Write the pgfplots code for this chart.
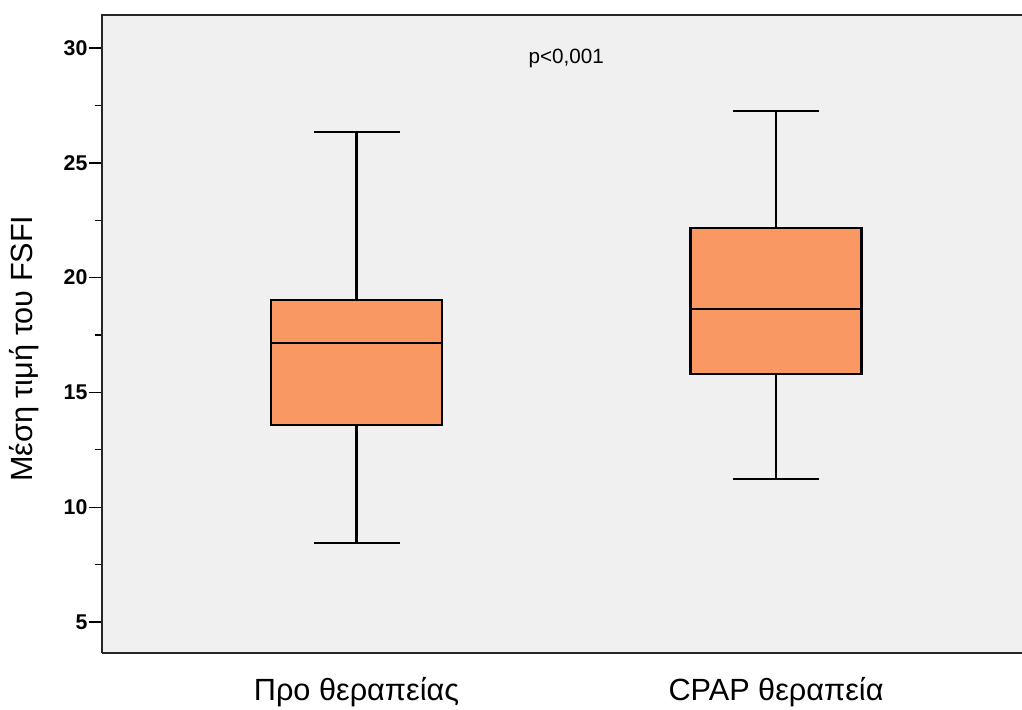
\documentclass[border=0pt]{standalone}
\usepackage{pgfplots}
\pgfplotsset{compat=1.18}
\usepgfplotslibrary{statistics}
\usepackage{fontspec}
\setmainfont{Liberation Sans}
\definecolor{boxfill}{RGB}{250,152,100}
\definecolor{bgfill}{RGB}{240,240,240}
\begin{document}
\begin{tikzpicture}
\path[use as bounding box] (0,0) rectangle (766.5pt,532.5pt);
\begin{axis}[
  at={(76.5pt,42.75pt)}, anchor=south west,
  scale only axis, width=697.5pt, height=478.5pt,
  xmin=0.3933, xmax=2.6102, ymin=3.65, ymax=31.44,
  axis background/.style={fill=bgfill},
  axis line style={draw=none},
  xtick={1,2}, xticklabels={Προ θεραπείας, CPAP θεραπεία},
  xtick style={draw=none},
  xticklabel style={font=\fontsize{23}{27}\selectfont, inner sep=0pt, yshift=-8pt},
  ytick={5,10,15,20,25,30}, minor ytick={7.5,12.5,17.5,22.5,27.5},
  ytick pos=left, tick align=outside,
  major tick length=9.75pt, minor tick length=5pt,
  ytick style={line width=1pt, black},
  yticklabel style={font=\fontsize{16}{18}\selectfont\bfseries, inner sep=0pt, xshift=-1pt},
  /pgf/number format/assume math mode=true,
  ylabel={Μέση τιμή του FSFI},
  every axis y label/.style={at={(axis description cs:-0.0839,0.477)}, rotate=90, anchor=center, font=\fontsize{23}{27}\selectfont},
  boxplot/draw direction=y,
  clip=false,
]
\addplot+[boxplot prepared={draw position=1, lower whisker=8.44, lower quartile=13.58, median=17.15, upper quartile=19.02, upper whisker=26.34, box extend=0.408, whisker extend=0.205},
  draw=black, fill=boxfill, line width=1.7pt, mark=none, solid] coordinates {};
\addplot+[boxplot prepared={draw position=2, lower whisker=11.23, lower quartile=15.80, median=18.63, upper quartile=22.16, upper whisker=27.26, box extend=0.408, whisker extend=0.205},
  draw=black, fill=boxfill, line width=1.7pt, mark=none, solid] coordinates {};
\draw[line width=1.3pt, black!85] (rel axis cs:0,0) -- (rel axis cs:0,1) -- (rel axis cs:1,1);
\draw[line width=1.3pt, black!85] (rel axis cs:0,0) -- (rel axis cs:1,0);
\node[font=\fontsize{15.5}{18}\selectfont] at (axis cs:1.5,29.56) {p<0,001};
\end{axis}
\end{tikzpicture}
\end{document}
